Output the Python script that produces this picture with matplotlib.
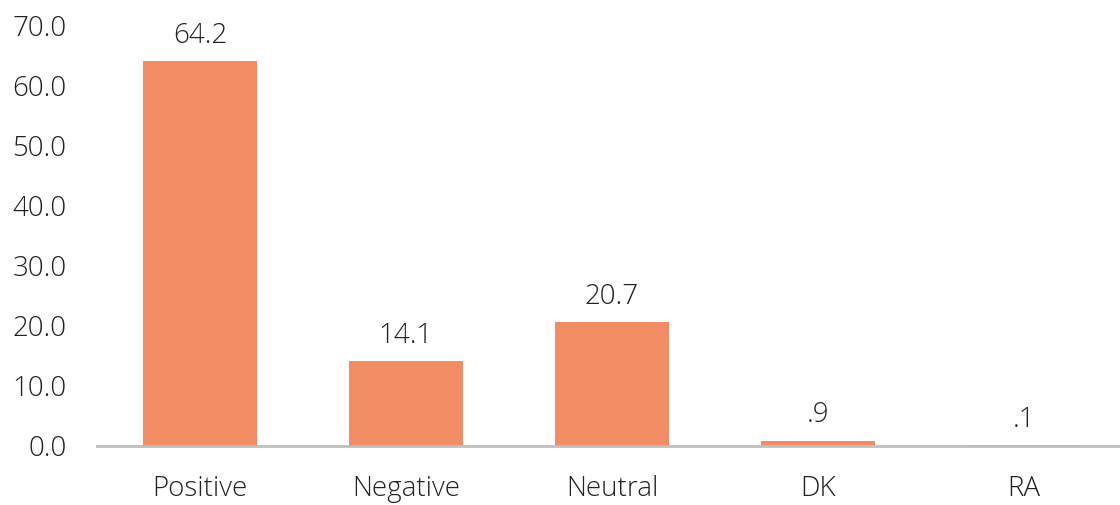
import matplotlib.pyplot as plt
from matplotlib.ticker import FormatStrFormatter

categories = ['Positive', 'Negative', 'Neutral', 'DK', 'RA']
values = [64.2, 14.1, 20.7, 0.9, 0.1]
value_labels = ['64.2', '14.1', '20.7', '.9', '.1']

plt.rcParams['font.family'] = ['Open Sans', 'DejaVu Sans']
plt.rcParams['font.weight'] = 'light'

fig = plt.figure(figsize=(11.2, 5.05), dpi=100)
ax = fig.add_axes([97 / 1120, 59 / 505, 1030 / 1120, 420 / 505])

bars = ax.bar(range(len(categories)), values, width=0.555, color='#F28C65')
for bar, lab in zip(bars, value_labels):
    ax.annotate(lab, (bar.get_x() + bar.get_width() / 2, bar.get_height()),
                xytext=(0, 8), textcoords='offset points',
                ha='center', va='bottom', fontsize=20, color='#222222')

ax.set_xlim(-0.5, 4.5)
ax.set_ylim(0, 70)
ax.set_yticks(range(0, 71, 10))
ax.yaxis.set_major_formatter(FormatStrFormatter('%.1f'))
ax.set_xticks(range(len(categories)))
ax.set_xticklabels(categories)

for s in ['top', 'right', 'left']:
    ax.spines[s].set_visible(False)
ax.spines['bottom'].set_color('#BFBFBF')
ax.spines['bottom'].set_linewidth(2)
ax.tick_params(axis='y', length=0, pad=22, labelsize=20, labelcolor='#222222')
ax.tick_params(axis='x', length=0, pad=21, labelsize=20, labelcolor='#222222')

fig.savefig('out.png', dpi=100)
